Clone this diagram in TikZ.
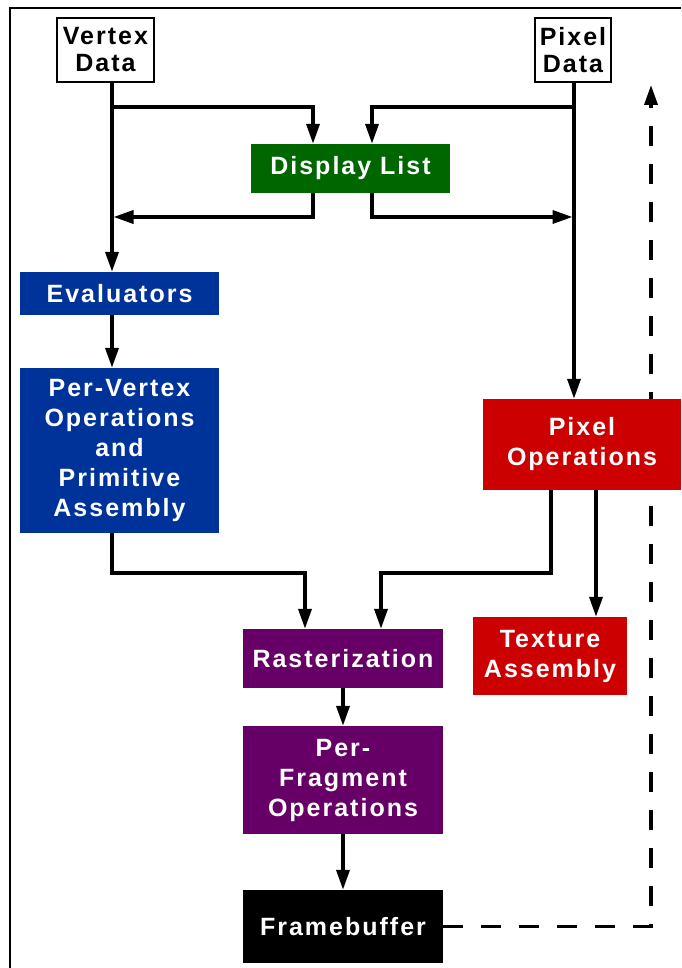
\documentclass[tikz,border=0pt]{standalone}
\usepackage{fontspec}
\setmainfont{Liberation Sans}[LetterSpace=8]
\usetikzlibrary{arrows.meta,backgrounds}
\definecolor{listgreen}{RGB}{0,102,0}
\definecolor{geomblue}{RGB}{0,51,153}
\definecolor{pixred}{RGB}{204,0,0}
\definecolor{fragpurple}{RGB}{102,0,102}
\tikzset{
  stage/.style={inner sep=0pt, align=center, text=white,
    font=\bfseries\fontsize{25}{30}\selectfont},
  databox/.style={draw=black, line width=1.5pt, fill=white, inner sep=0pt,
    align=center, text=black, font=\bfseries\fontsize{25}{27}\selectfont},
  conn/.style={line width=3.5pt, -{Triangle[length=20pt,width=13pt]}},
  feed/.style={line width=3.5pt, dash pattern=on 20pt off 18pt,
    -{Triangle[length=20pt,width=13pt]}},
}
\begin{document}
\begin{tikzpicture}[x=1pt,y=-1pt]
\useasboundingbox (0,0) rectangle (681,968);
% outer frame
\draw[line width=1.5pt] (10,968) -- (10,8) -- (681,8);

% inputs
\node[databox, minimum width=97pt, minimum height=64pt] (vd) at (105.5,50) {Vertex\\Data};
\node[databox, minimum width=76pt, minimum height=64pt] (pd) at (573,50) {Pixel\\Data};

% pipeline stages
\node[stage, fill=listgreen, minimum width=199pt, minimum height=49pt] (dl) at (350.5,168.5) {Display List};
\node[stage, fill=geomblue, minimum width=199pt, minimum height=43pt] (ev) at (119.5,293.5) {Evaluators};
\node[stage, fill=geomblue, minimum width=199pt, minimum height=165pt] (pv) at (119.5,450.5) {Per-Vertex\\Operations\\and\\Primitive\\Assembly};
\node[stage, fill=pixred, minimum width=198pt, minimum height=91pt] (po) at (582,444.5) {Pixel\\Operations};
\node[stage, fill=fragpurple, minimum width=200pt, minimum height=59pt] (ra) at (343,658.5) {Rasterization};
\node[stage, fill=pixred, minimum width=154pt, minimum height=78pt] (ta) at (550,656) {Texture\\Assembly};
\node[stage, fill=fragpurple, minimum width=200pt, minimum height=108pt] (pf) at (343,780) {Per-\\Fragment\\Operations};
\node[stage, fill=black, minimum width=200pt, minimum height=73pt] (fb) at (343,926.5) {Framebuffer};

% trunk lines and junction points
\coordinate (vx) at (112,0);
\coordinate (px) at (574,0);
\coordinate (vsplit) at (112,107);
\coordinate (psplit) at (574,107);
\coordinate (vjoin) at (112,217);
\coordinate (pjoin) at (574,217);
\coordinate (vbend) at (112,573);
\coordinate (feedtop) at (651,85);

% vertex path
\draw[conn] (vd.south -| vx) -- (ev.north -| vx);
\draw[conn] (vsplit) -| ([xshift=-37.5pt]dl.north);
\draw[conn] ([xshift=-37.5pt]dl.south) |- ([xshift=1.5pt]vjoin);
\draw[conn] (ev.south -| vx) -- (pv.north -| vx);
\draw[conn] (pv.south -| vx) -- (vbend) -| ([xshift=-38pt]ra.north);

% pixel path
\draw[conn] (pd.south -| px) -- (po.north -| px);
\draw[conn] (psplit) -| ([xshift=21.5pt]dl.north);
\draw[conn] ([xshift=21.5pt]dl.south) |- ([xshift=-1.5pt]pjoin);
\draw[conn] ([xshift=-31pt]po.south) -- ++(0,83) -| ([xshift=38pt]ra.north);
\draw[conn] ([xshift=14pt]po.south) -- ([xshift=46pt]ta.north);

% fragment path
\draw[conn] (ra) -- (pf);
\draw[conn] (pf) -- (fb);

% page background and the readback line, which runs behind the pixel stage
\begin{pgfonlayer}{background}
  \fill[white] (0,0) rectangle (681,968);
  \draw[feed] (fb.east) -| (feedtop);
\end{pgfonlayer}
\end{tikzpicture}
\end{document}
